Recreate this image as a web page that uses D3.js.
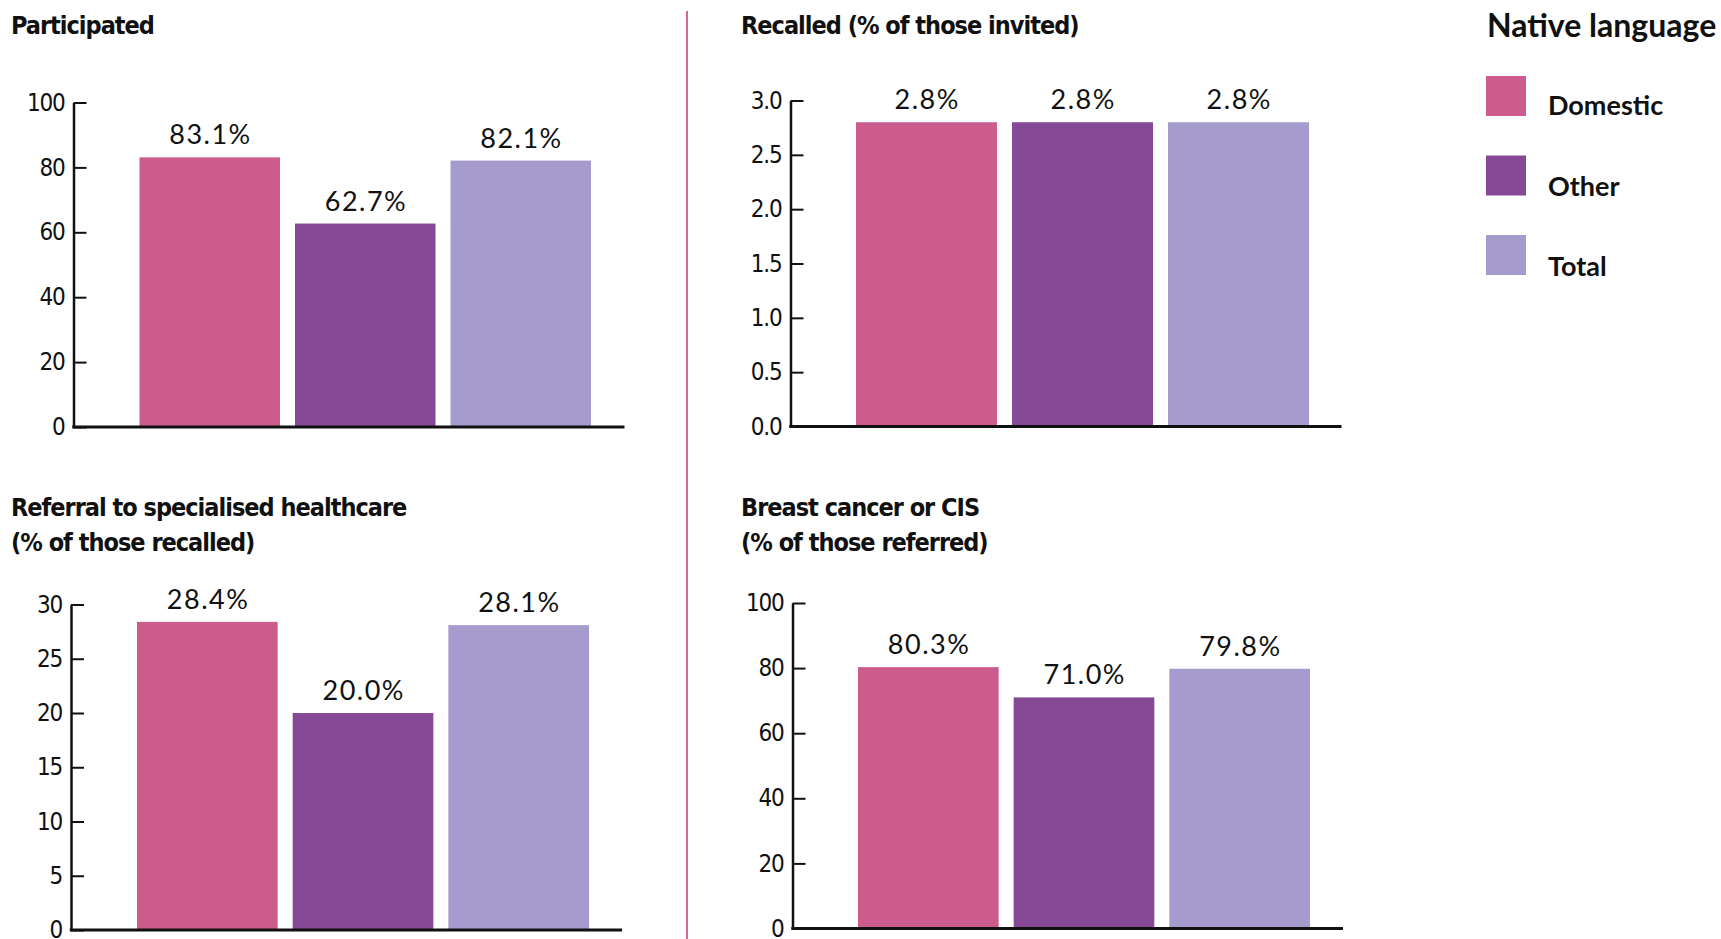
<!DOCTYPE html>
<html>
<head>
<meta charset="utf-8">
<script src="https://cdn.jsdelivr.net/npm/d3@7"></script>
<style>
  html, body { margin: 0; padding: 0; background: #fff; }
  svg { display: block; }
  .title { font-family: "Liberation Sans Narrow", "DejaVu Sans Condensed", sans-serif; font-weight: bold; font-size: 25px; letter-spacing: -1px; fill: #111; }
  .tick text { font-family: "Liberation Sans Narrow", "DejaVu Sans Condensed", sans-serif; font-size: 24px; letter-spacing: -1.2px; fill: #111; }
  .value { font-family: Lato, "Open Sans", sans-serif; font-size: 27px; fill: #111; letter-spacing: 1.5px; }
  .legend-title { font-family: Lato, sans-serif; font-weight: bold; font-size: 32px; fill: #111; }
  .legend-label { font-family: Lato, sans-serif; font-weight: bold; font-size: 27px; fill: #111; }
</style>
</head>
<body>
<script>
// Screening outcomes by native language
const groups = ["Domestic", "Other", "Total"];
const colors = ["#cd5c8e", "#854996", "#a59bcc"];

const participated = [83.1, 62.7, 82.1];
const recalled = [2.8, 2.8, 2.8];
const referred = [28.4, 20.0, 28.1];
const cancerFound = [80.3, 71.0, 79.8];

const participatedTicks = [0, 20, 40, 60, 80, 100];
const recalledTicks = [0, 0.5, 1.0, 1.5, 2.0, 2.5, 3.0];
const referredTicks = [0, 5, 10, 15, 20, 25, 30];
const cancerTicks = [0, 20, 40, 60, 80, 100];

const legendTitle = "Native language";

// Panel layout (pixel geometry of each small chart)
const panels = [
  { title: ["Participated"], values: participated, ticks: participatedTicks, fmt: d3.format("d"),
    tx: 11, ty: 34, axisX: 73.5, yTop: 102.5, y0: 427, barL: 139.5, barR: 591, xEnd: 624.5 },
  { title: ["Recalled (% of those invited)"], values: recalled, ticks: recalledTicks, fmt: d3.format(".1f"),
    tx: 741, ty: 34, axisX: 790.5, yTop: 100.5, y0: 426.5, barL: 856, barR: 1309, xEnd: 1341.5 },
  { title: ["Referral to specialised healthcare", "(% of those recalled)"], values: referred, ticks: referredTicks, fmt: d3.format("d"),
    tx: 11, ty: 516, axisX: 71, yTop: 604.5, y0: 930, barL: 137, barR: 589, xEnd: 622 },
  { title: ["Breast cancer or CIS", "(% of those referred)"], values: cancerFound, ticks: cancerTicks, fmt: d3.format("d"),
    tx: 741, ty: 516, axisX: 792.5, yTop: 603, y0: 928.5, barL: 858, barR: 1310, xEnd: 1343 }
];

const W = 1721, H = 939;
const svg = d3.select("body").append("svg").attr("width", W).attr("height", H);

// vertical separator between the two columns
svg.append("line")
  .attr("x1", 687).attr("x2", 687).attr("y1", 11).attr("y2", H)
  .attr("stroke", "#d2679a").attr("stroke-width", 2);

const color = d3.scaleOrdinal().domain(groups).range(colors);

panels.forEach(p => {
  const g = svg.append("g");

  g.append("text").attr("class", "title")
    .attr("x", p.tx).attr("y", p.ty)
    .selectAll("tspan").data(p.title).join("tspan")
    .attr("x", p.tx).attr("dy", (d, i) => i === 0 ? 0 : 35)
    .text(d => d);

  const y = d3.scaleLinear()
    .domain([0, d3.max(p.ticks)])
    .range([p.y0, p.yTop]);

  const x = d3.scaleBand()
    .domain(groups)
    .range([p.barL, p.barR])
    .paddingInner(0.0965)
    .paddingOuter(0);

  // bars
  g.selectAll("rect.bar").data(p.values).join("rect")
    .attr("class", "bar")
    .attr("x", (d, i) => x(groups[i]))
    .attr("width", x.bandwidth())
    .attr("y", d => y(d))
    .attr("height", d => y(0) - y(d))
    .attr("fill", (d, i) => color(groups[i]));

  // value labels
  g.selectAll("text.value").data(p.values).join("text")
    .attr("class", "value")
    .attr("x", (d, i) => x(groups[i]) + x.bandwidth() / 2 + 0.75)
    .attr("y", d => y(d) - 13)
    .attr("text-anchor", "middle")
    .text(d => d3.format(".1f")(d) + "%");

  // y axis, ticks pointing inward
  const axis = d3.axisLeft(y)
    .tickValues(p.ticks)
    .tickFormat(p.fmt)
    .tickSizeInner(-13)
    .tickSizeOuter(0)
    .tickPadding(9);

  const ga = g.append("g")
    .attr("transform", `translate(${p.axisX},0)`)
    .call(axis);
  ga.select(".domain").attr("stroke", "#111").attr("stroke-width", 2.5);
  ga.selectAll(".tick line").attr("stroke", "#111").attr("stroke-width", 2);
  ga.selectAll(".tick text").attr("fill", "#111");

  // baseline
  g.append("line")
    .attr("x1", p.axisX - 1.25).attr("x2", p.xEnd)
    .attr("y1", y(0)).attr("y2", y(0))
    .attr("stroke", "#111").attr("stroke-width", 3);
});

// legend
const legend = svg.append("g");
legend.append("text").attr("class", "legend-title")
  .attr("x", 1487).attr("y", 37).text(legendTitle);

const items = legend.selectAll("g.item").data(groups).join("g").attr("class", "item");
items.append("rect")
  .attr("x", 1486).attr("y", d => 76 + groups.indexOf(d) * 79.5)
  .attr("width", 40).attr("height", 40)
  .attr("fill", d => color(d));
items.append("text").attr("class", "legend-label")
  .attr("x", 1548).attr("y", d => 115 + groups.indexOf(d) * 80.5)
  .text(d => d);
</script>
</body>
</html>
